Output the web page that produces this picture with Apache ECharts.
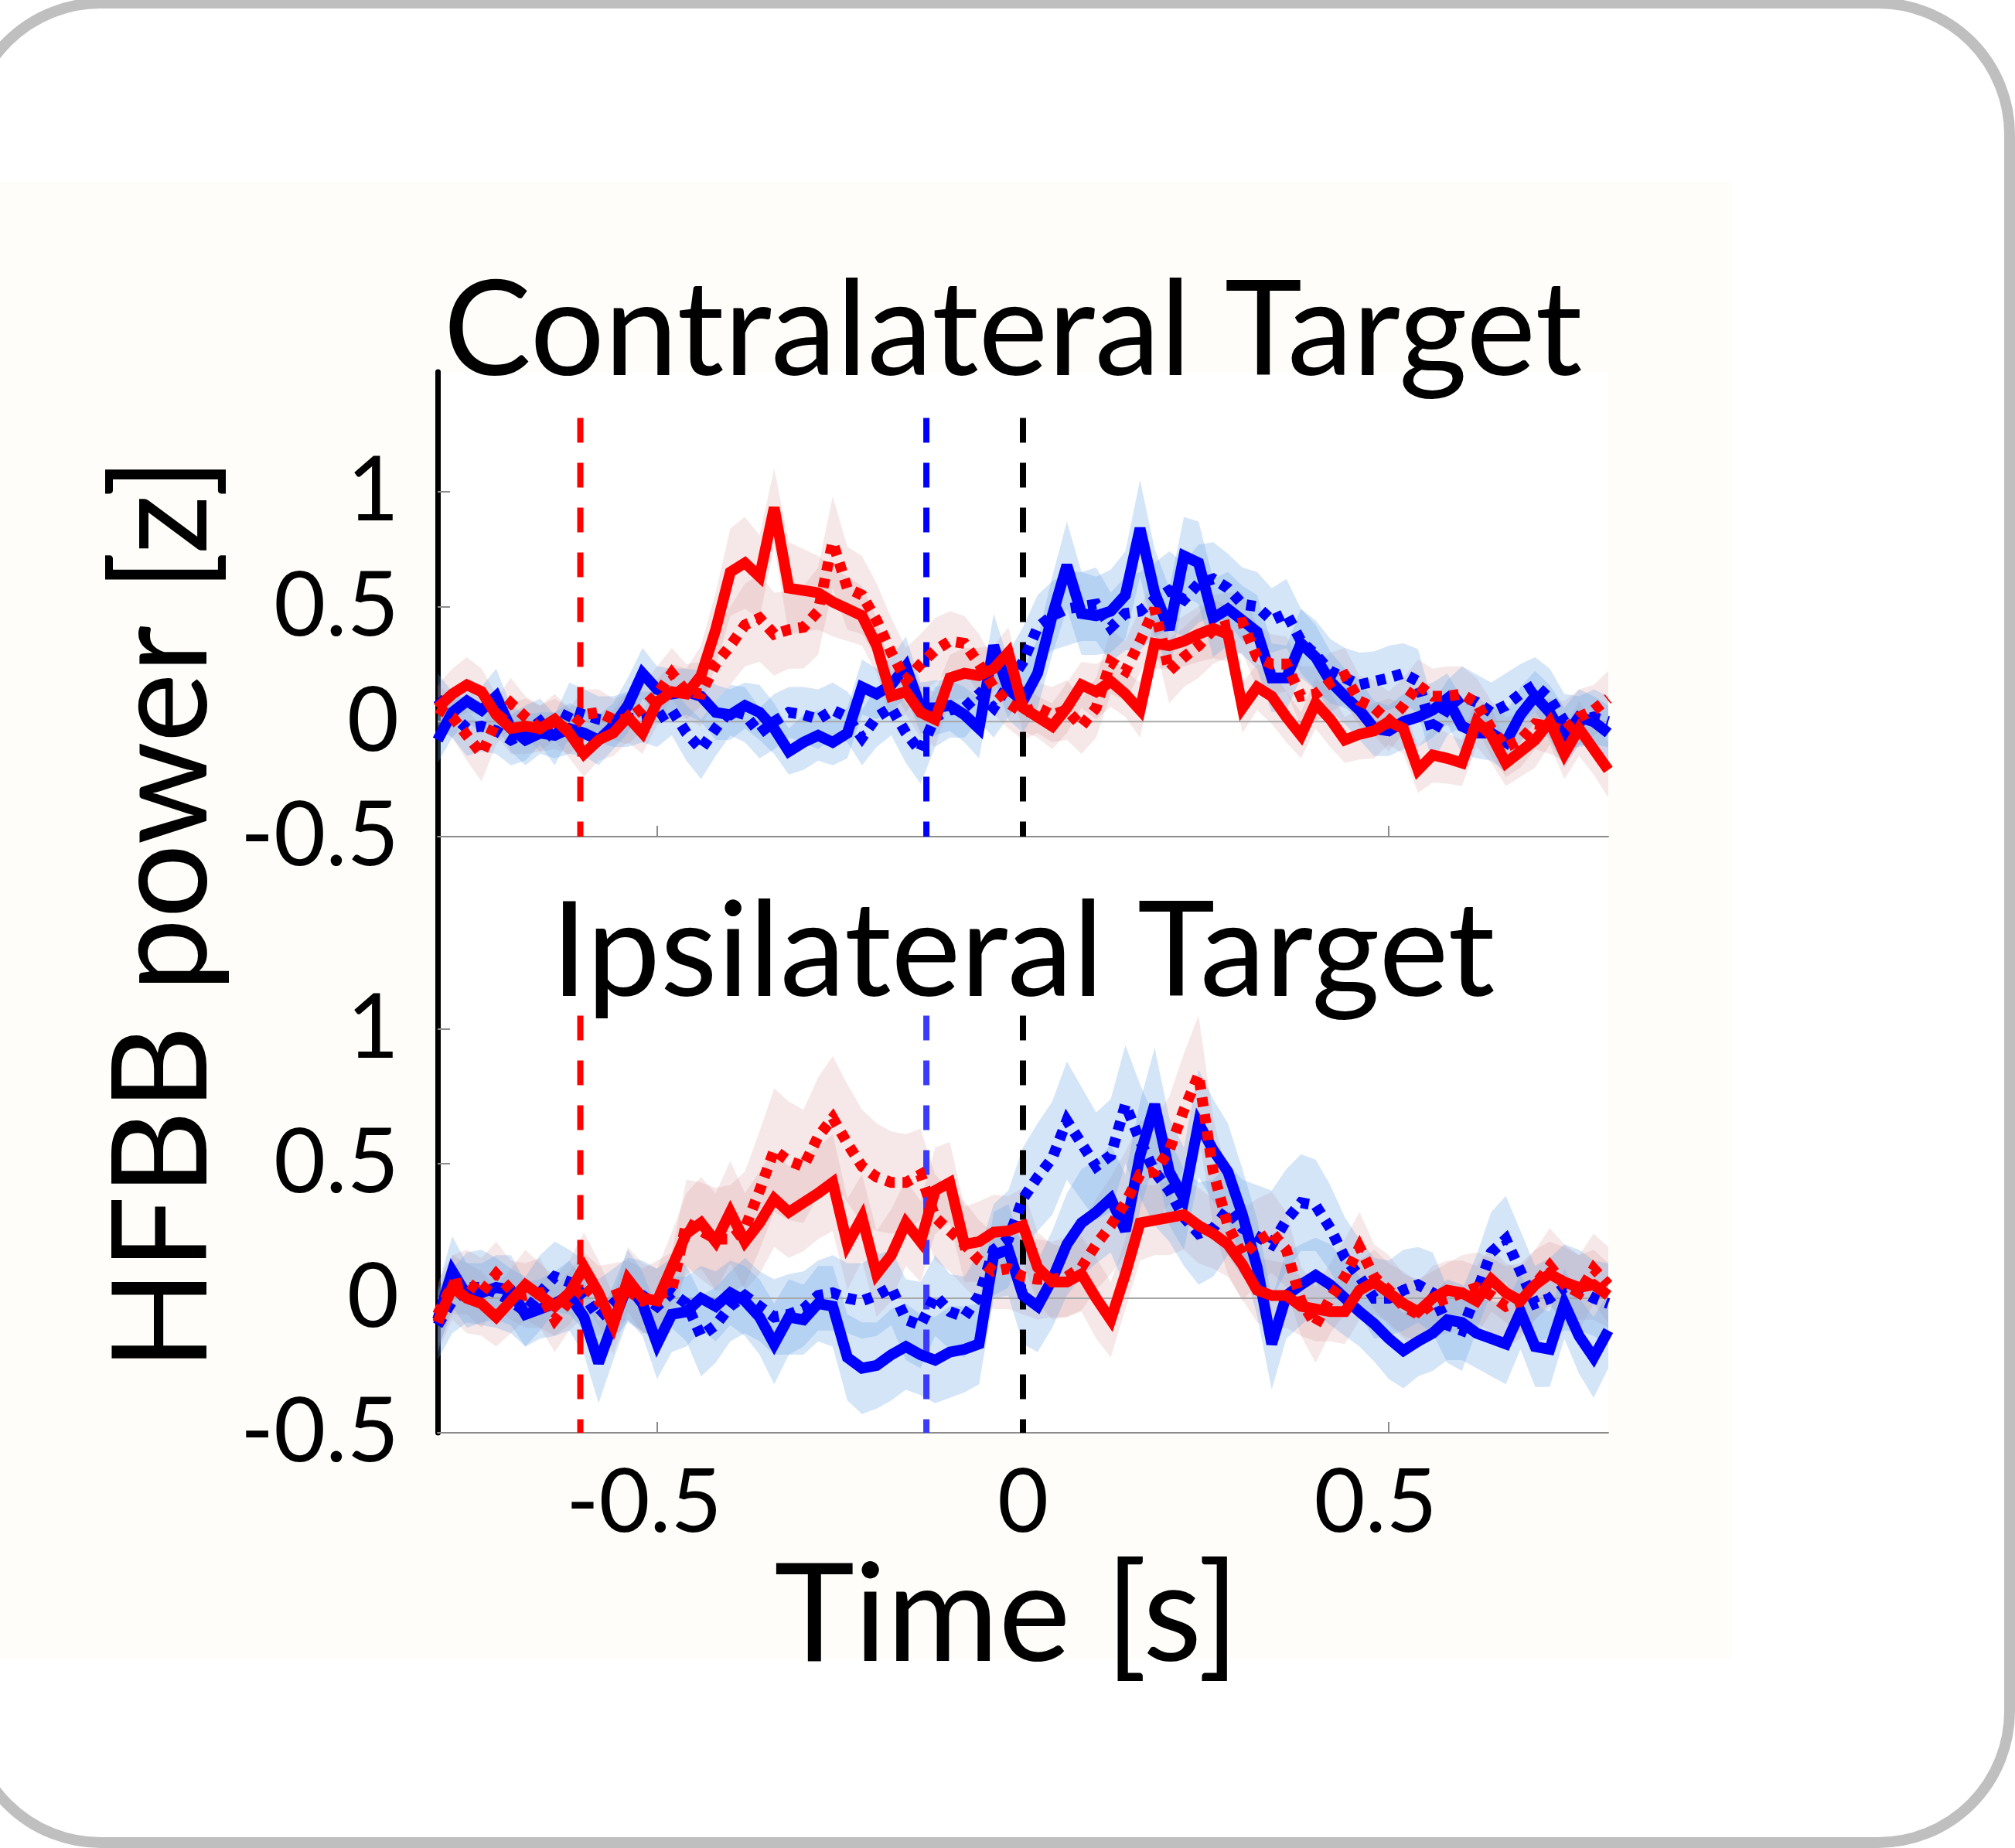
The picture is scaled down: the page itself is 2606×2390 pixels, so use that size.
<!DOCTYPE html>
<html>
<head>
<meta charset="utf-8">
<script src="https://cdn.jsdelivr.net/npm/echarts@6/dist/echarts.min.js"></script>
<style>
  html, body { margin: 0; padding: 0; background: #fff; }
  #main { width: 2606px; height: 2390px; }
</style>
</head>
<body>
<div id="main"></div>
<script>
// time axis (s), one sample every 20 ms
var time = [
  -0.8, -0.78, -0.76, -0.74, -0.72, -0.7, -0.68, -0.66, -0.64, -0.62,
  -0.6, -0.58, -0.56, -0.54, -0.52, -0.5, -0.48, -0.46, -0.44, -0.42,
  -0.4, -0.38, -0.36, -0.34, -0.32, -0.3, -0.28, -0.26, -0.24, -0.22,
  -0.2, -0.18, -0.16, -0.14, -0.12, -0.1, -0.08, -0.06, -0.04, -0.02,
  0, 0.02, 0.04, 0.06, 0.08, 0.1, 0.12, 0.14, 0.16, 0.18,
  0.2, 0.22, 0.24, 0.26, 0.28, 0.3, 0.32, 0.34, 0.36, 0.38,
  0.4, 0.42, 0.44, 0.46, 0.48, 0.5, 0.52, 0.54, 0.56, 0.58,
  0.6, 0.62, 0.64, 0.66, 0.68, 0.7, 0.72, 0.74, 0.76, 0.78,
  0.8
];

// Contralateral target
var contraRedSolid = [
  0.06, 0.12, 0.16, 0.13, 0.03, -0.03, -0.02, -0.03, 0.01, -0.05,
  -0.14, -0.08, -0.05, 0.02, -0.05, 0.085, 0.13, 0.12, 0.20, 0.40,
  0.65, 0.69, 0.63, 0.93, 0.58, 0.57, 0.56, 0.52, 0.49, 0.46,
  0.33, 0.11, 0.13, 0.04, 0.01, 0.19, 0.21, 0.20, 0.23, 0.30,
  0.06, 0.02, -0.02, 0.06, 0.16, 0.13, 0.175, 0.12, 0.05, 0.34,
  0.33, 0.35, 0.38, 0.405, 0.38, 0.06, 0.15, 0.11, 0.02, -0.06,
  0.08, 0.01, -0.08, -0.055, -0.04, 0.0, -0.03, -0.21, -0.145, -0.16,
  -0.18, 0.0, -0.06, -0.18, -0.13, -0.08, 0.0, -0.14, -0.03, -0.12,
  -0.21
];
var contraRedDotted = [
  0.06, 0.02, -0.06, -0.14, 0.0, 0.08, 0.02, -0.03, 0.0, -0.04,
  0.03, 0.04, 0.01, 0.01, 0.06, 0.12, 0.21, 0.13, 0.12, 0.25,
  0.33, 0.42, 0.45, 0.38, 0.40, 0.41, 0.48, 0.78, 0.58, 0.55,
  0.44, 0.30, 0.18, 0.25, 0.31, 0.35, 0.34, 0.25, 0.15, 0.08,
  0.04, 0.06, 0.03, 0.05, -0.02, 0.06, 0.26, 0.22, 0.35, 0.49,
  0.22, 0.28, 0.33, 0.40, 0.42, 0.43, 0.28, 0.25, 0.25, 0.11,
  0.12, 0.17, 0.20, 0.09, 0.06, 0.0, 0.07, 0.16, 0.11, 0.11,
  0.12, 0.08, -0.03, -0.11, -0.08, -0.01, -0.02, -0.04, 0.02, 0.05,
  0.10
];
var contraBlueSolid = [
  -0.08, 0.04, 0.09, 0.05, 0.11, -0.03, -0.08, -0.05, -0.06, -0.03,
  -0.05, -0.08, -0.02, 0.07, 0.21, 0.14, 0.12, 0.13, 0.11, 0.04,
  0.03, 0.07, 0.04, -0.03, -0.13, -0.09, -0.06, -0.09, -0.05, 0.15,
  0.12, 0.16, 0.24, 0.06, 0.06, 0.07, 0.03, -0.03, 0.33, 0.14,
  0.09, 0.21, 0.46, 0.68, 0.47, 0.46, 0.48, 0.55, 0.84, 0.56,
  0.40, 0.72, 0.69, 0.45, 0.49, 0.44, 0.39, 0.19, 0.19, 0.34,
  0.28, 0.175, 0.11, 0.05, -0.03, -0.04, 0.0, 0.02, 0.05, 0.10,
  -0.02, -0.05, -0.05, -0.09, 0.03, 0.11, 0.04, -0.07, 0.02, 0.0,
  -0.05
];
var contraBlueDotted = [
  0.10, 0.03, -0.03, -0.02, -0.04, -0.08, -0.05, 0.0, -0.08, 0.05,
  0.03, 0.01, 0.0, 0.01, 0.02, 0.01, 0.05, -0.05, -0.12, -0.03,
  0.05, 0.03, -0.05, 0.0, 0.04, 0.03, 0.01, 0.05, 0.02, -0.07,
  0.02, 0.06, -0.05, -0.13, 0.02, 0.05, 0.06, 0.12, 0.06, 0.16,
  0.26, 0.41, 0.46, 0.49, 0.50, 0.51, 0.41, 0.47, 0.48, 0.53,
  0.57, 0.53, 0.60, 0.62, 0.58, 0.51, 0.50, 0.44, 0.47, 0.35,
  0.29, 0.22, 0.19, 0.16, 0.175, 0.19, 0.21, 0.175, -0.05, 0.06,
  0.11, 0.085, 0.04, 0.07, 0.12, 0.16, 0.10, 0.0, 0.0, 0.02,
  0.0
];
var contraRedSolidSem = [
  0.10, 0.11, 0.12, 0.10, 0.09, 0.11, 0.12, 0.10, 0.09, 0.11,
  0.10, 0.09, 0.10, 0.11, 0.09, 0.10, 0.12, 0.11, 0.13, 0.16,
  0.19, 0.20, 0.18, 0.17, 0.20, 0.18, 0.16, 0.15, 0.14, 0.13,
  0.12, 0.11, 0.10, 0.11, 0.12, 0.10, 0.11, 0.12, 0.10, 0.11,
  0.10, 0.09, 0.10, 0.11, 0.10, 0.12, 0.11, 0.10, 0.12, 0.11,
  0.10, 0.11, 0.12, 0.13, 0.12, 0.11, 0.10, 0.12, 0.11, 0.10,
  0.11, 0.12, 0.10, 0.11, 0.12, 0.10, 0.11, 0.10, 0.12, 0.11,
  0.10, 0.11, 0.12, 0.10, 0.11, 0.12, 0.10, 0.11, 0.12, 0.11,
  0.12
];
var contraRedDottedSem = [
  0.10, 0.09, 0.11, 0.12, 0.10, 0.11, 0.09, 0.10, 0.12, 0.10,
  0.11, 0.10, 0.09, 0.11, 0.10, 0.12, 0.11, 0.12, 0.14, 0.16,
  0.17, 0.18, 0.19, 0.18, 0.17, 0.18, 0.19, 0.20, 0.18, 0.17,
  0.16, 0.15, 0.14, 0.13, 0.14, 0.13, 0.12, 0.13, 0.12, 0.11,
  0.12, 0.11, 0.12, 0.13, 0.12, 0.13, 0.14, 0.13, 0.14, 0.15,
  0.14, 0.13, 0.14, 0.15, 0.14, 0.13, 0.14, 0.13, 0.12, 0.13,
  0.12, 0.13, 0.12, 0.11, 0.12, 0.13, 0.12, 0.11, 0.12, 0.13,
  0.12, 0.11, 0.12, 0.13, 0.12, 0.11, 0.12, 0.13, 0.12, 0.11,
  0.12
];
var contraBlueSolidSem = [
  0.10, 0.11, 0.09, 0.10, 0.12, 0.10, 0.11, 0.09, 0.10, 0.11,
  0.10, 0.11, 0.10, 0.12, 0.11, 0.10, 0.11, 0.10, 0.11, 0.12,
  0.11, 0.10, 0.12, 0.11, 0.10, 0.12, 0.11, 0.10, 0.11, 0.12,
  0.11, 0.12, 0.13, 0.11, 0.12, 0.11, 0.12, 0.13, 0.14, 0.13,
  0.14, 0.15, 0.17, 0.19, 0.18, 0.17, 0.18, 0.19, 0.21, 0.19,
  0.18, 0.17, 0.18, 0.17, 0.16, 0.15, 0.16, 0.15, 0.14, 0.15,
  0.14, 0.13, 0.12, 0.13, 0.12, 0.11, 0.12, 0.13, 0.12, 0.11,
  0.12, 0.11, 0.12, 0.13, 0.12, 0.11, 0.12, 0.13, 0.12, 0.11,
  0.12
];
var contraBlueDottedSem = [
  0.11, 0.10, 0.12, 0.11, 0.10, 0.11, 0.12, 0.10, 0.11, 0.12,
  0.11, 0.10, 0.11, 0.12, 0.11, 0.12, 0.11, 0.12, 0.13, 0.12,
  0.11, 0.12, 0.11, 0.12, 0.11, 0.12, 0.13, 0.12, 0.11, 0.12,
  0.13, 0.12, 0.13, 0.14, 0.13, 0.12, 0.13, 0.12, 0.13, 0.14,
  0.15, 0.14, 0.15, 0.16, 0.15, 0.16, 0.15, 0.16, 0.17, 0.16,
  0.17, 0.16, 0.17, 0.16, 0.15, 0.16, 0.15, 0.14, 0.15, 0.14,
  0.15, 0.14, 0.13, 0.14, 0.13, 0.14, 0.13, 0.14, 0.13, 0.12,
  0.13, 0.12, 0.13, 0.14, 0.13, 0.12, 0.13, 0.12, 0.11, 0.12,
  0.11
];

// Ipsilateral target
var ipsiRedSolid = [
  -0.09, 0.04, 0.0, -0.02, -0.07, -0.01, 0.05, 0.01, -0.03, 0.02,
  0.115, 0.02, -0.10, 0.07, 0.0, -0.01, 0.115, 0.24, 0.28, 0.21,
  0.32, 0.21, 0.28, 0.37, 0.32, 0.355, 0.39, 0.43, 0.20, 0.30,
  0.09, 0.16, 0.28, 0.21, 0.40, 0.43, 0.20, 0.21, 0.245, 0.25,
  0.27, 0.115, 0.06, 0.06, 0.09, 0.0, -0.08, 0.09, 0.28, 0.29,
  0.30, 0.31, 0.27, 0.24, 0.20, 0.125, 0.03, 0.01, 0.01, -0.03,
  -0.04, -0.05, -0.05, 0.03, 0.06, 0.02, -0.02, -0.05, 0.0, 0.03,
  0.02, -0.01, 0.07, 0.02, -0.01, 0.05, 0.09, 0.06, 0.04, 0.05,
  0.01
];
var ipsiRedDotted = [
  -0.06, 0.05, 0.06, 0.02, 0.09, 0.03, 0.01, 0.02, -0.08, -0.01,
  0.05, -0.01, 0.01, 0.03, -0.01, 0.01, 0.03, 0.28, 0.25, 0.22,
  0.22, 0.26, 0.40, 0.55, 0.51, 0.49, 0.60, 0.67, 0.575, 0.49,
  0.45, 0.43, 0.43, 0.46, 0.30, 0.25, 0.20, 0.14, 0.10, 0.11,
  0.08, 0.07, 0.07, 0.08, 0.115, 0.20, 0.27, 0.355, 0.46, 0.47,
  0.55, 0.70, 0.83, 0.47, 0.27, 0.16, 0.21, 0.245, 0.18, -0.01,
  -0.10, 0.0, 0.08, 0.19, 0.08, 0.03, -0.03, -0.06, -0.02, 0.0,
  0.02, 0.04, 0.01, -0.03, -0.01, 0.05, 0.12, 0.05, 0.02, 0.11,
  0.05
];
var ipsiBlueSolid = [
  -0.08, 0.10, 0.01, 0.02, 0.04, 0.03, -0.06, -0.04, -0.02, 0.01,
  -0.07, -0.24, -0.09, 0.05, -0.02, -0.17, -0.06, -0.05, 0.0, -0.03,
  0.02, -0.01, -0.07, -0.17, -0.07, -0.08, -0.02, -0.03, -0.22, -0.26,
  -0.25, -0.21, -0.18, -0.21, -0.23, -0.20, -0.19, -0.17, 0.16, 0.18,
  0.01, -0.03, 0.07, 0.20, 0.28, 0.32, 0.37, 0.25, 0.53, 0.72,
  0.47, 0.37, 0.65, 0.55, 0.47, 0.31, 0.115, -0.17, 0.01, 0.05,
  0.085, 0.05, 0.0, -0.05, -0.095, -0.15, -0.195, -0.16, -0.13, -0.08,
  -0.09, -0.13, -0.15, -0.17, -0.05, -0.18, -0.19, -0.02, -0.14, -0.22,
  -0.12
];
var ipsiBlueDotted = [
  -0.10, -0.01, 0.04, 0.04, 0.02, -0.01, -0.05, 0.02, 0.08, 0.06,
  0.01, -0.07, -0.02, 0.03, 0.01, -0.03, 0.02, -0.02, -0.14, -0.10,
  -0.03, 0.01, -0.03, -0.07, -0.06, -0.04, 0.01, 0.02, 0.0, -0.01,
  0.01, 0.04, -0.08, -0.10, 0.01, -0.05, -0.07, 0.01, 0.18, 0.22,
  0.37, 0.45, 0.52, 0.66, 0.575, 0.49, 0.53, 0.72, 0.585, 0.47,
  0.40, 0.30, 0.24, 0.26, 0.33, 0.26, 0.23, 0.20, 0.29, 0.355,
  0.345, 0.26, 0.15, 0.08, 0.0, 0.0, 0.03, 0.05, 0.02, -0.10,
  -0.12, 0.02, 0.17, 0.22, 0.10, -0.02, 0.0, 0.04, 0.03, 0.0,
  -0.02
];
var ipsiRedSolidSem = [
  0.11, 0.12, 0.13, 0.12, 0.11, 0.12, 0.13, 0.12, 0.11, 0.12,
  0.13, 0.12, 0.11, 0.12, 0.13, 0.12, 0.13, 0.15, 0.17, 0.18,
  0.19, 0.18, 0.19, 0.18, 0.17, 0.18, 0.17, 0.18, 0.17, 0.16,
  0.16, 0.17, 0.16, 0.15, 0.16, 0.15, 0.14, 0.15, 0.14, 0.13,
  0.14, 0.13, 0.14, 0.13, 0.14, 0.15, 0.14, 0.13, 0.14, 0.13,
  0.14, 0.13, 0.14, 0.13, 0.12, 0.13, 0.12, 0.13, 0.12, 0.11,
  0.12, 0.11, 0.12, 0.11, 0.12, 0.11, 0.12, 0.11, 0.12, 0.11,
  0.12, 0.13, 0.12, 0.11, 0.12, 0.13, 0.12, 0.13, 0.12, 0.13,
  0.12
];
var ipsiRedDottedSem = [
  0.12, 0.11, 0.12, 0.13, 0.12, 0.11, 0.12, 0.13, 0.12, 0.11,
  0.12, 0.13, 0.12, 0.11, 0.12, 0.13, 0.14, 0.16, 0.18, 0.19,
  0.20, 0.21, 0.22, 0.23, 0.22, 0.21, 0.22, 0.23, 0.22, 0.21,
  0.20, 0.19, 0.18, 0.17, 0.16, 0.15, 0.16, 0.15, 0.14, 0.15,
  0.14, 0.15, 0.14, 0.15, 0.16, 0.17, 0.18, 0.19, 0.20, 0.19,
  0.20, 0.21, 0.22, 0.20, 0.18, 0.17, 0.16, 0.15, 0.14, 0.13,
  0.14, 0.13, 0.14, 0.13, 0.12, 0.13, 0.12, 0.13, 0.12, 0.13,
  0.14, 0.13, 0.14, 0.15, 0.14, 0.13, 0.14, 0.15, 0.14, 0.13,
  0.14
];
var ipsiBlueSolidSem = [
  0.12, 0.13, 0.12, 0.11, 0.12, 0.13, 0.12, 0.11, 0.12, 0.13,
  0.14, 0.15, 0.14, 0.13, 0.12, 0.13, 0.14, 0.13, 0.12, 0.13,
  0.12, 0.13, 0.14, 0.15, 0.14, 0.13, 0.14, 0.15, 0.16, 0.17,
  0.16, 0.17, 0.16, 0.15, 0.16, 0.17, 0.16, 0.15, 0.16, 0.17,
  0.18, 0.17, 0.18, 0.19, 0.20, 0.19, 0.20, 0.21, 0.20, 0.21,
  0.20, 0.19, 0.20, 0.19, 0.18, 0.17, 0.18, 0.17, 0.16, 0.15,
  0.14, 0.15, 0.14, 0.13, 0.14, 0.15, 0.14, 0.13, 0.14, 0.15,
  0.14, 0.13, 0.14, 0.15, 0.14, 0.15, 0.14, 0.13, 0.14, 0.15,
  0.14
];
var ipsiBlueDottedSem = [
  0.13, 0.12, 0.13, 0.14, 0.13, 0.12, 0.13, 0.14, 0.13, 0.12,
  0.13, 0.14, 0.13, 0.12, 0.13, 0.14, 0.13, 0.14, 0.15, 0.14,
  0.13, 0.14, 0.13, 0.14, 0.15, 0.14, 0.13, 0.14, 0.13, 0.14,
  0.15, 0.14, 0.15, 0.16, 0.15, 0.14, 0.15, 0.16, 0.17, 0.18,
  0.19, 0.20, 0.21, 0.22, 0.21, 0.20, 0.21, 0.22, 0.21, 0.20,
  0.19, 0.18, 0.19, 0.18, 0.17, 0.18, 0.19, 0.20, 0.19, 0.18,
  0.17, 0.16, 0.15, 0.14, 0.15, 0.14, 0.15, 0.14, 0.15, 0.14,
  0.15, 0.14, 0.15, 0.16, 0.15, 0.14, 0.15, 0.16, 0.15, 0.14,
  0.15
];

// event markers (s) and the top of each dashed marker in each panel
var eventTimes = [-0.605, -0.132, 0];
var eventTopContra = 1.32;
var eventTopIpsi = 1.05;

var xTicks = [-0.5, 0, 0.5];
var yTicks = [-0.5, 0, 0.5, 1];

var RED = '#ff0000', BLUE = '#0000ff';
var RED_BAND = 'rgba(200,110,110,0.16)', BLUE_BAND = 'rgba(100,160,230,0.28)';
var FONT = 'Lato';

function xy(ys) {
  return time.map(function (t, i) { return [t, ys[i]]; });
}

// shaded mean +/- sem band, drawn as one polygon through the axis scales
function band(g, mean, sem, fill) {
  var lower = mean.map(function (m, i) { return m - sem[i]; });
  var upper = mean.map(function (m, i) { return m + sem[i]; });
  return {
    type: 'custom', xAxisIndex: g, yAxisIndex: g, silent: true, z: 1,
    data: time.map(function (t, i) { return [t, lower[i], upper[i]]; }),
    encode: { x: 0, y: [1, 2] },
    renderItem: function (params, api) {
      if (params.dataIndex !== 0) return null;
      var pts = [];
      for (var i = 0; i < time.length; i++) pts.push(api.coord([time[i], upper[i]]));
      for (var j = time.length - 1; j >= 0; j--) pts.push(api.coord([time[j], lower[j]]));
      return { type: 'polygon', shape: { points: pts }, style: { fill: fill } };
    }
  };
}

function trace(g, ys, color, dotted) {
  return {
    type: 'line', xAxisIndex: g, yAxisIndex: g, data: xy(ys),
    showSymbol: false, silent: true, z: 4,
    lineStyle: { color: color, width: 14, type: dotted ? [12, 10] : 'solid',
                 join: 'miter', miterLimit: 3, cap: 'butt' }
  };
}

function eventLine(g, x, top, color) {
  return {
    type: 'line', xAxisIndex: g, yAxisIndex: g, data: [[x, top], [x, -0.5]],
    showSymbol: false, silent: true, z: 3,
    lineStyle: { color: color, width: 8, type: [32, 26], cap: 'butt' }
  };
}

function zeroLine(g) {
  return {
    type: 'line', xAxisIndex: g, yAxisIndex: g, data: [[-0.8, 0], [0.8, 0]],
    showSymbol: false, silent: true, z: 1,
    lineStyle: { color: '#a8a8a8', width: 2 }
  };
}

function panel(g, rs, rd, bs, bd, rsSem, rdSem, bsSem, bdSem, top, blueEvent) {
  return [
    zeroLine(g),
    band(g, rs, rsSem, RED_BAND),
    band(g, rd, rdSem, RED_BAND),
    band(g, bs, bsSem, BLUE_BAND),
    band(g, bd, bdSem, BLUE_BAND),
    eventLine(g, eventTimes[0], top, RED),
    eventLine(g, eventTimes[1], top, blueEvent),
    eventLine(g, eventTimes[2], top, '#000000'),
    trace(g, bd, BLUE, true),
    trace(g, bs, BLUE, false),
    trace(g, rd, RED, true),
    trace(g, rs, RED, false)
  ];
}

function xAxisFor(g, withLabels) {
  var ax = {
    gridIndex: g, type: 'value', min: -0.8, max: 0.8,
    axisLine: { show: true, onZero: false, lineStyle: { color: '#8c8c8c', width: 2 } },
    axisTick: { show: true, inside: true, length: 14, customValues: xTicks,
                lineStyle: { color: '#8c8c8c', width: 2 } },
    axisLabel: { show: false },
    splitLine: { show: false }
  };
  if (withLabels) {
    ax.axisLabel = {
      show: true, customValues: xTicks, color: '#000',
      fontFamily: FONT, fontSize: 114, margin: 34,
      // MATLAB nudges the non-zero labels slightly left of their tick
      formatter: function (v) { return v === 0 ? '{z|0}' : '{n|' + v + '}'; },
      rich: {
        z: { fontFamily: FONT, fontSize: 114, color: '#000' },
        n: { fontFamily: FONT, fontSize: 114, color: '#000', padding: [0, 34, 0, 0] }
      }
    };
    ax.name = 'Time [s]';
    ax.nameLocation = 'middle';
    ax.nameGap = 150;
    ax.nameTextStyle = { color: '#000', fontFamily: FONT, fontSize: 176, padding: [0, 42, 0, 0] };
  }
  return ax;
}

function yAxisFor(g, max) {
  return {
    gridIndex: g, type: 'value', min: -0.5, max: max,
    axisLine: { show: true, onZero: false, lineStyle: { color: '#000', width: 7 } },
    axisTick: { show: true, inside: true, length: 16, customValues: yTicks,
                lineStyle: { color: '#8c8c8c', width: 2 } },
    axisLabel: { customValues: yTicks, color: '#000', fontFamily: FONT,
                 fontSize: 116, margin: 50 },
    splitLine: { show: false }
  };
}

var chart = echarts.init(document.getElementById('main'), null, { renderer: 'canvas' });

var option = {
  animation: false,
  backgroundColor: '#ffffff',
  grid: [
    { left: 566, top: 481, width: 1514, height: 601, show: true,
      backgroundColor: '#ffffff', borderWidth: 0, containLabel: false, outerBoundsMode: 'none' },
    { left: 566, top: 1082, width: 1514, height: 771, show: true,
      backgroundColor: '#ffffff', borderWidth: 0, containLabel: false, outerBoundsMode: 'none' }
  ],
  xAxis: [xAxisFor(0, false), xAxisFor(1, true)],
  yAxis: [yAxisFor(0, 1.52), yAxisFor(1, 1.715)],
  series: [].concat(
    panel(0, contraRedSolid, contraRedDotted, contraBlueSolid, contraBlueDotted,
          contraRedSolidSem, contraRedDottedSem, contraBlueSolidSem, contraBlueDottedSem,
          eventTopContra, BLUE),
    panel(1, ipsiRedSolid, ipsiRedDotted, ipsiBlueSolid, ipsiBlueDotted,
          ipsiRedSolidSem, ipsiRedDottedSem, ipsiBlueSolidSem, ipsiBlueDottedSem,
          eventTopIpsi, '#3b3bff')
  ),
  graphic: [
    { type: 'rect', z: -100, silent: true,
      shape: { x: 0, y: 235, width: 2240, height: 1910 },
      style: { fill: '#fefdf9' } },
    { type: 'text', x: 1310, y: 430, z: 50, silent: true,
      style: { text: 'Contralateral Target', fill: '#000', font: '170px ' + FONT,
               align: 'center', verticalAlign: 'middle',
               textAlign: 'center', textVerticalAlign: 'middle' } },
    { type: 'text', x: 1323, y: 1233, z: 50, silent: true,
      style: { text: 'Ipsilateral Target', fill: '#000', font: '170px ' + FONT,
               align: 'center', verticalAlign: 'middle',
               textAlign: 'center', textVerticalAlign: 'middle' } },
    { type: 'text', x: 212, y: 1182, rotation: Math.PI / 2, z: 50, silent: true,
      style: { text: 'HFBB power [z]', fill: '#000', font: '170px ' + FONT,
               align: 'center', verticalAlign: 'middle',
               textAlign: 'center', textVerticalAlign: 'middle' } },
    { type: 'rect', z: 100, silent: true,
      shape: { x: -40, y: 4, width: 2639, height: 2379, r: 170 },
      style: { fill: 'none', stroke: '#bfbfbf', lineWidth: 14 } }
  ]
};

chart.setOption(option);
</script>
</body>
</html>
